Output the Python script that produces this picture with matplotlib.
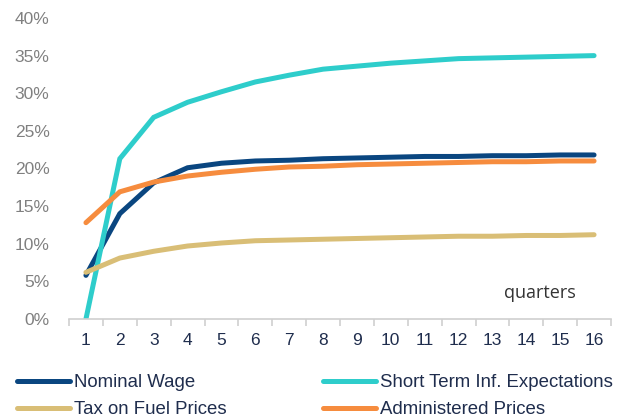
import numpy as np
import matplotlib
matplotlib.use("Agg")
import matplotlib.pyplot as plt
from matplotlib.ticker import FuncFormatter

plt.rcParams['font.family'] = ['Liberation Sans', 'DejaVu Sans']

quarters = list(range(1, 17))
nominal_wage = [5.8, 14.0, 18.1, 20.1, 20.7, 21.0, 21.1, 21.3, 21.4, 21.5, 21.6, 21.6, 21.7, 21.7, 21.8, 21.8]
short_term_exp = [0.0, 21.3, 26.8, 28.8, 30.2, 31.5, 32.4, 33.2, 33.6, 34.0, 34.3, 34.6, 34.7, 34.8, 34.9, 35.0]
tax_fuel = [6.2, 8.1, 9.0, 9.7, 10.1, 10.4, 10.5, 10.6, 10.7, 10.8, 10.9, 11.0, 11.0, 11.1, 11.1, 11.2]
admin_prices = [12.8, 16.9, 18.2, 19.0, 19.5, 19.9, 20.2, 20.3, 20.5, 20.6, 20.7, 20.8, 20.9, 20.9, 21.0, 21.0]

series = [
    ("Nominal Wage", nominal_wage, "#0A4680"),
    ("Short Term Inf. Expectations", short_term_exp, "#2ECDCB"),
    ("Tax on Fuel Prices", tax_fuel, "#D9BE76"),
    ("Administered Prices", admin_prices, "#F68C3E"),
]

fig = plt.figure(figsize=(6.32, 4.19), dpi=100)
ax = fig.add_axes([69 / 632, 1 - 319 / 419, 542 / 632, 301 / 419])

lines = {}
for name, vals, color in series:
    lines[name], = ax.plot(quarters, vals, color=color, lw=3.6, label=name,
                           solid_capstyle='round', solid_joinstyle='miter')

ax.set_xlim(0.5, 16.5)
ax.set_ylim(0, 40)
ax.set_yticks(np.arange(0, 41, 5))
ax.yaxis.set_major_formatter(FuncFormatter(lambda v, p: f"{v:.0f}%"))
ax.set_xticks(quarters)
ax.set_xticks(np.arange(0.5, 17, 1), minor=True)

for s in ["top", "right", "left"]:
    ax.spines[s].set_visible(False)
ax.spines["bottom"].set_color("#D0D0D0")
ax.spines["bottom"].set_linewidth(1.2)

ax.tick_params(axis='y', length=0, labelsize=12.5, labelcolor="#808080", pad=14)
ax.tick_params(axis='x', which='major', length=0, labelsize=12.5, labelcolor="#1F2D4D", pad=10)
ax.tick_params(axis='x', which='minor', length=5, width=1.2, color="#D0D0D0")

ax.text(14.4, 3.5, "quarters", fontsize=13, color="#333333", family="Open Sans",
        ha="center", va="center")

# legend fills column-wise, so order handles to get the reference's rows
order = ["Nominal Wage", "Tax on Fuel Prices", "Short Term Inf. Expectations", "Administered Prices"]
fig.legend([lines[n] for n in order], order, loc="upper left",
           bbox_to_anchor=(0.015, 0.125), ncol=2, frameon=False,
           fontsize=13.4, labelcolor="#1F2D4D", handlelength=2.85, handletextpad=0.2,
           columnspacing=5.2, borderaxespad=0, labelspacing=0.55)

fig.savefig("out.png", dpi=100)
